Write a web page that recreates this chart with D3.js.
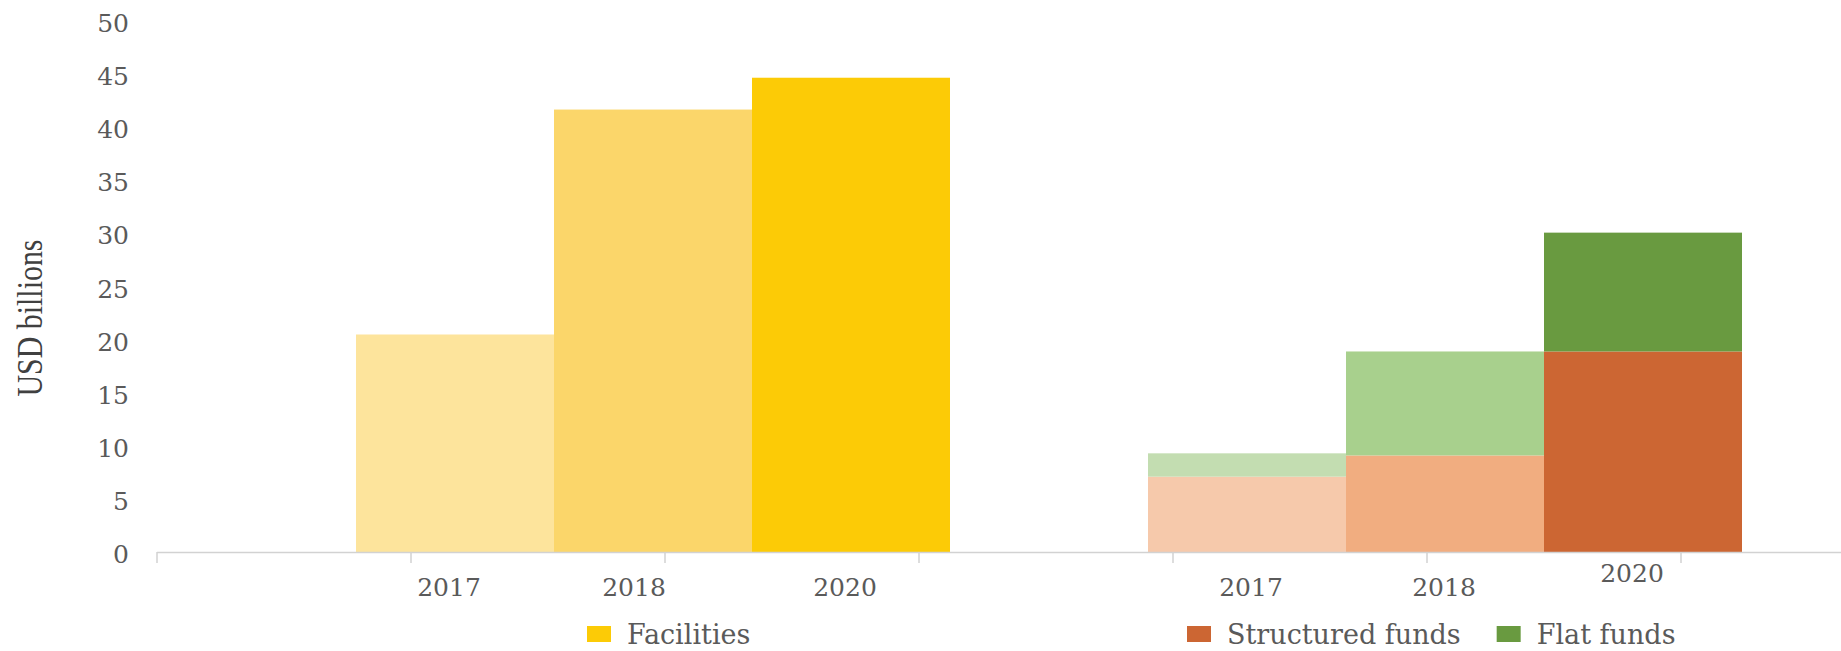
<!DOCTYPE html>
<html><head><meta charset="utf-8">
<script src="https://cdn.jsdelivr.net/npm/d3@7"></script>
<style>
html,body{margin:0;padding:0;background:#fff;}
svg{display:block;}
text{font-family:"DejaVu Serif",serif;fill:#5a5a5a;}
</style></head>
<body><svg id="c" width="1841" height="651"></svg>
<script>
const years = ["2017", "2018", "2020"];
const facilities = [20.5, 41.7, 44.7];
const structuredFunds = [7.1, 9.1, 18.9];
const flatFunds = [2.2, 9.8, 11.2];
const yTicks = [0, 5, 10, 15, 20, 25, 30, 35, 40, 45, 50];
const legendLeft = ["Facilities"];
const legendRight = ["Structured funds", "Flat funds"];

const facColors = ["#FDE49C", "#FBD66A", "#FCCB06"];
const strColors = ["#F6C9AB", "#F1AD80", "#CC6633"];
const flatColors = ["#C3DDB1", "#A8D08D", "#699A40"];

const svg = d3.select("#c");
const W = 1841, H = 651;

const y = d3.scaleLinear().domain([0, 50]).range([552, 21.5]);
const slots = ["f0","f1","f2","gap","s0","s1","s2"];
const x = d3.scaleBand().domain(slots).range([356, 1742]).padding(0);
const axisBand = d3.scaleBand().domain(d3.range(7)).range([157, 1935]).padding(0);

// y tick labels
svg.append("g").selectAll("text").data(yTicks).join("text")
  .attr("x", 129).attr("y", d => y(d) + 2).attr("dy", "0.35em")
  .attr("text-anchor", "end").style("font-size", "25px").text(d => d);

// y title
svg.append("text").attr("transform", `translate(42,318) rotate(-90)`)
  .attr("text-anchor", "middle").style("font-family", "Liberation Serif, serif")
  .style("font-size", "36px").style("fill", "#404040")
  .attr("textLength", 157).attr("lengthAdjust", "spacingAndGlyphs").text("USD billions");

// facilities bars
svg.append("g").selectAll("rect").data(facilities).join("rect")
  .attr("x", (d, i) => x("f" + i)).attr("width", x.bandwidth())
  .attr("y", d => y(d)).attr("height", d => y(0) - y(d))
  .attr("fill", (d, i) => facColors[i]);

// structured
svg.append("g").selectAll("rect").data(structuredFunds).join("rect")
  .attr("x", (d, i) => x("s" + i)).attr("width", x.bandwidth())
  .attr("y", d => y(d)).attr("height", d => y(0) - y(d))
  .attr("fill", (d, i) => strColors[i]);
// flat stacked
svg.append("g").selectAll("rect").data(flatFunds).join("rect")
  .attr("x", (d, i) => x("s" + i)).attr("width", x.bandwidth())
  .attr("y", (d, i) => y(structuredFunds[i] + d)).attr("height", (d, i) => y(structuredFunds[i]) - y(structuredFunds[i] + d))
  .attr("fill", (d, i) => flatColors[i]);

// x axis line & ticks
const ax = svg.append("g");
ax.append("line").attr("x1", axisBand(0)).attr("x2", W).attr("y1", y(0)+0.5).attr("y2", y(0)+0.5)
  .attr("stroke", "#d2d2d2").attr("stroke-width", 1.5);
ax.selectAll("line.t").data(d3.range(7)).join("line").attr("class", "t")
  .attr("x1", d => axisBand(d)).attr("x2", d => axisBand(d))
  .attr("y1", y(0)).attr("y2", y(0) + 11).attr("stroke", "#d2d2d2").attr("stroke-width", 1.5);

// x labels
const labDx = [-6, -19, -6, 4, -1, -11];
const labBase = [596, 596, 596, 596, 596, 582];
const labSlots = ["f0","f1","f2","s0","s1","s2"];
const labText = years.concat(years);
svg.append("g").selectAll("text").data(labText).join("text")
  .attr("x", (d, i) => x(labSlots[i]) + x.bandwidth()/2 + labDx[i])
  .attr("y", (d, i) => labBase[i]).attr("text-anchor", "middle")
  .style("font-size", "25px").text(d => d);

// legends
function legend(items, colors, x0, gap) {
  const g = svg.append("g");
  let cx = x0;
  items.forEach((t, i) => {
    g.append("rect").attr("x", cx).attr("y", 626).attr("width", 24).attr("height", 16).attr("fill", colors[i]);
    const tx = g.append("text").attr("x", cx + 40).attr("y", 644).style("font-size", "27px").text(t);
    cx = cx + 40 + tx.node().getComputedTextLength() + gap;
  });
}
legend(legendLeft, ["#FCCB06"], 587, 0);
legend(legendRight, ["#CC6633", "#699A40"], 1187, 36);
</script></body></html>
